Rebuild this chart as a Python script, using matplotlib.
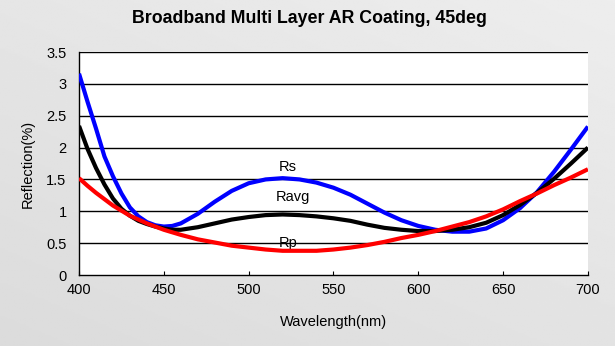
import numpy as np
import matplotlib
matplotlib.use("Agg")
import matplotlib.pyplot as plt

plt.rcParams['font.family'] = ['Liberation Sans', 'DejaVu Sans']

# wavelength grid (nm) and reflection values (%)
wl = [400, 405, 410, 415, 420, 425, 430, 435, 440, 445, 450, 455, 460,
      470, 480, 490, 500, 510, 520, 530, 540, 550, 560, 570, 580, 590,
      600, 610, 620, 630, 640, 650, 660, 670, 680, 690, 700]

rs = [3.16, 2.72, 2.30, 1.86, 1.55, 1.28, 1.06, 0.92, 0.83, 0.78, 0.76, 0.77, 0.81,
      0.96, 1.15, 1.32, 1.44, 1.50, 1.52, 1.50, 1.45, 1.37, 1.26, 1.12, 0.98, 0.86,
      0.77, 0.71, 0.68, 0.68, 0.73, 0.86, 1.05, 1.30, 1.62, 1.97, 2.33]

ravg = [2.34, 1.98, 1.68, 1.42, 1.20, 1.04, 0.93, 0.85, 0.80, 0.76, 0.73, 0.71, 0.71,
        0.75, 0.81, 0.87, 0.91, 0.94, 0.95, 0.94, 0.92, 0.89, 0.85, 0.79, 0.74, 0.71,
        0.69, 0.69, 0.71, 0.75, 0.82, 0.94, 1.10, 1.29, 1.51, 1.75, 2.00]

rp = [1.52, 1.40, 1.29, 1.19, 1.09, 1.01, 0.93, 0.87, 0.81, 0.76, 0.71, 0.67, 0.63,
      0.56, 0.51, 0.46, 0.43, 0.40, 0.38, 0.38, 0.38, 0.40, 0.43, 0.47, 0.52, 0.58,
      0.63, 0.69, 0.76, 0.83, 0.92, 1.03, 1.16, 1.28, 1.41, 1.53, 1.66]

labels = ['Rs', 'Ravg', 'Rp']
label_pos = [(523, 1.70), (526, 1.23), (523, 0.50)]

fig = plt.figure(figsize=(6.15, 3.46), dpi=100)

# soft grey backdrop
bg = fig.add_axes([0, 0, 1, 1], zorder=-10)
gx, gy = np.meshgrid(np.linspace(0, 1, 200), np.linspace(0, 1, 200))
shade = 0.86 + 0.04 * gy + 0.03 * gx
bg.imshow(shade, cmap='gray', vmin=0, vmax=1, aspect='auto', origin='lower',
          extent=[0, 1, 0, 1])
bg.axis('off')

ax = fig.add_axes([0.1285, 0.2052, 0.8275, 0.6445])
ax.set_facecolor('white')

ax.plot(wl, rs, color='#0000ff', lw=3, solid_capstyle='butt', zorder=3)
ax.plot(wl, ravg, color='black', lw=3, solid_capstyle='butt', zorder=3)
ax.plot(wl, rp, color='#ff0000', lw=3, solid_capstyle='butt', zorder=4)

for txt, (x, y) in zip(labels, label_pos):
    ax.text(x, y, txt, fontsize=10.5, ha='center', va='center')

ax.set_xlim(400, 700)
ax.set_ylim(0, 3.5)
ax.set_xticks(np.arange(400, 701, 50))
ax.set_yticks(np.arange(0, 3.51, 0.5))
ax.set_yticklabels(['0', '0.5', '1', '1.5', '2', '2.5', '3', '3.5'])

for y in np.arange(0.5, 3.51, 0.5):
    ax.axhline(y, color='black', lw=1, zorder=1)

ax.spines['right'].set_visible(False)
ax.spines['top'].set_visible(False)
ax.spines['left'].set_linewidth(1)
ax.spines['bottom'].set_linestyle((0, (2, 1)))
ax.spines['bottom'].set_linewidth(1)

ax.tick_params(axis='x', direction='in', length=3, labelsize=10.5, pad=6)
ax.tick_params(axis='y', length=0, labelsize=10.5, pad=9)

ax.set_xlabel('Wavelength(nm)', fontsize=10.5, labelpad=13)
ax.set_ylabel('Reflection(%)', fontsize=10.5, labelpad=8)
fig.suptitle('Broadband Multi Layer AR Coating, 45deg', fontsize=12.8,
             fontweight='bold', x=0.503, y=0.972)

fig.savefig('out.png', dpi=100)
